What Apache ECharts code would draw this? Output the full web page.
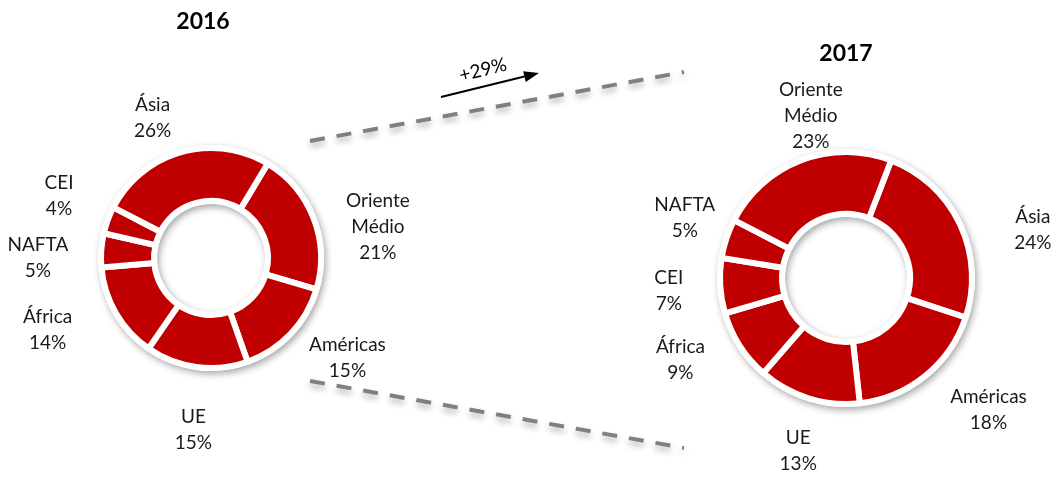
<!DOCTYPE html>
<html>
<head>
<meta charset="utf-8">
<script src="https://cdn.jsdelivr.net/npm/echarts@6/dist/echarts.min.js"></script>
<style>
  html, body { margin: 0; background: #fff; }
  #chart { width: 1059px; height: 477px; }
</style>
</head>
<body>
<div id="chart"></div>
<script>
// shares per region, listed clockwise from the first gap
const years = ['2016', '2017']
const regions2016 = ['Oriente Médio', 'Américas', 'UE', 'África', 'NAFTA', 'CEI', 'Ásia']
const share2016 = [21, 15, 15, 14, 5, 4, 26]
const regions2017 = ['Ásia', 'Américas', 'UE', 'África', 'CEI', 'NAFTA', 'Oriente Médio']
const share2017 = [24, 18, 13, 9, 7, 5, 23]
const growthLabel = '+29%'

const RED = '#C00000'
const FONT = 'Lato, "Open Sans", sans-serif'

// hand placed labels in the original: small shifts off the radial spot
const nudge2016 = {
  'Oriente Médio': [8, 31], 'Américas': [13, -18], 'UE': [5, 3], 'África': [-16, -14],
  'NAFTA': [-3, 12], 'CEI': [8, -3], 'Ásia': [-12, 24]
}
const nudge2017 = {
  'Ásia': [21, 30], 'Américas': [27, -11], 'UE': [7, -2], 'África': [-11, -17],
  'CEI': [6, 2], 'NAFTA': [13, -3], 'Oriente Médio': [30, 9]
}

function toData(names, values) {
  return names.map((n, i) => ({ name: n, value: values[i] }))
}

// one donut = white shadowed base ring + red slices + invisible ring carrying the labels
function donut(names, values, center, r0, r, labelR, startAngle, nudge) {
  const data = toData(names, values)
  return [
    {
      type: 'pie',
      silent: true,
      center: center,
      radius: [r0 - 3, r + 3],
      startAngle: startAngle,
      label: { show: false },
      labelLine: { show: false },
      itemStyle: {
        color: '#fff',
        shadowBlur: 7,
        shadowOffsetX: 2,
        shadowOffsetY: 3,
        shadowColor: 'rgba(0,0,0,0.35)'
      },
      data: [{ name: 'base', value: 1 }]
    },
    {
      type: 'pie',
      silent: true,
      center: center,
      radius: [r0, r],
      startAngle: startAngle,
      clockwise: true,
      label: { show: false },
      labelLine: { show: false },
      itemStyle: { color: RED, borderColor: '#fff', borderWidth: 6 },
      data: data
    },
    {
      type: 'pie',
      silent: true,
      center: center,
      radius: [labelR, labelR + 1],
      startAngle: startAngle,
      clockwise: true,
      avoidLabelOverlap: false,
      labelLine: { show: false },
      itemStyle: { color: 'rgba(0,0,0,0)' },
      label: {
        show: true,
        position: 'inside',
        color: '#1a1a1a',
        fontFamily: FONT,
        fontSize: 19,
        lineHeight: 26,
        formatter: p => p.name.replace(' ', '\n') + '\n' + p.value + '%'
      },
      labelLayout: p => {
        const d = nudge[names[p.dataIndex]] || [0, 0]
        return { dx: d[0], dy: d[1], hideOverlap: false }
      },
      data: data
    }
  ]
}

const chart = echarts.init(document.getElementById('chart'))

// arrow geometry for the growth marker
const ax1 = 441, ay1 = 97, tipX = 539, tipY = 73
const len = Math.hypot(tipX - ax1, tipY - ay1)
const ux = (tipX - ax1) / len, uy = (tipY - ay1) / len
const bx = tipX - 15 * ux, by = tipY - 15 * uy

const dashStyle = {
  stroke: '#808080',
  lineWidth: 4,
  lineDash: [15, 12],
  shadowBlur: 6,
  shadowOffsetY: 4,
  shadowColor: 'rgba(0,0,0,0.3)'
}

chart.setOption({
  animation: false,
  series: [
    ...donut(regions2016, share2016, [211, 258], 57, 110, 167, 59, nudge2016),
    ...donut(regions2017, share2017, [846, 278], 64, 126, 180, 69, nudge2017)
  ],
  graphic: [
    {
      type: 'text',
      style: { text: years[0], x: 203, y: 22, align: 'center', verticalAlign: 'middle',
        font: 'bold 23px ' + FONT, fill: '#000' }
    },
    {
      type: 'text',
      style: { text: years[1], x: 846, y: 54, align: 'center', verticalAlign: 'middle',
        font: 'bold 23px ' + FONT, fill: '#000' }
    },
    { type: 'line', shape: { x1: 310, y1: 141, x2: 684, y2: 72 }, style: dashStyle },
    { type: 'line', shape: { x1: 310, y1: 381, x2: 684, y2: 448 }, style: dashStyle },
    {
      type: 'line',
      shape: { x1: ax1, y1: ay1, x2: bx, y2: by },
      style: { stroke: '#000', lineWidth: 2 }
    },
    {
      type: 'polygon',
      shape: { points: [[tipX, tipY], [bx + 5.5 * uy, by - 5.5 * ux], [bx - 5.5 * uy, by + 5.5 * ux]] },
      style: { fill: '#000' }
    },
    {
      type: 'text',
      x: 483, y: 70,
      rotation: 0.24,
      style: { text: growthLabel, x: 0, y: 0, align: 'center', verticalAlign: 'middle',
        font: '19px ' + FONT, fill: '#000' }
    }
  ]
})
</script>
</body>
</html>
